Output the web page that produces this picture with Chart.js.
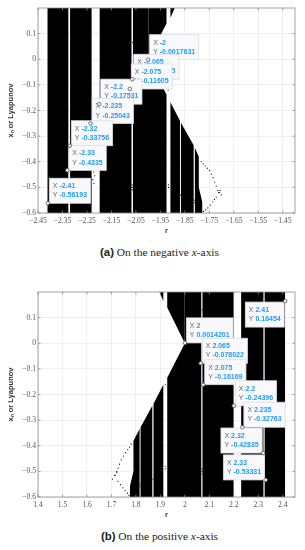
<!DOCTYPE html>
<html>
<head>
<meta charset="utf-8">
<script src="https://cdn.jsdelivr.net/npm/chart.js@4"></script>
<style>
  body { margin: 0; background: #fff; width: 305px; height: 550px; position: relative; overflow: hidden; }
  canvas { position: absolute; left: 0; }
  .caption { position: absolute; left: 7px; width: 305px; text-align: center; font: 11.4px "Liberation Serif", serif; color: #222; white-space: nowrap; }
  .caption b { font: bold 11.4px "Liberation Sans", sans-serif; }
</style>
</head>
<body>
<canvas id="chartA" width="305" height="240" style="top:0"></canvas>
<div class="caption" style="top:246px"><b>(a)</b> On the negative <i>x</i>-axis</div>
<canvas id="chartB" width="305" height="240" style="top:284px"></canvas>
<div class="caption" style="top:530px"><b>(b)</b> On the positive <i>x</i>-axis</div>
<script>
const yTicks = [-0.6, -0.5, -0.4, -0.3, -0.2, -0.1, 0, 0.1];
const yLabels = ["−0.6", "−0.5", "−0.4", "−0.3", "−0.2", "−0.1", "0", "0.1"];

const xTicksA = [-2.45, -2.35, -2.25, -2.15, -2.05, -1.95, -1.85, -1.75, -1.65, -1.55, -1.45];
const xLabelsA = ["−2.45", "−2.35", "−2.25", "−2.15", "−2.05", "−1.95", "−1.85", "−1.75", "−1.65", "−1.55", "−1.45"];
const xTicksB = [1.4, 1.5, 1.6, 1.7, 1.8, 1.9, 2, 2.1, 2.2, 2.3, 2.4];
const xLabelsB = ["1.4", "1.5", "1.6", "1.7", "1.8", "1.9", "2", "2.1", "2.2", "2.3", "2.4"];

// black area, lower part: filled from this outline down to the axis
const lowerRA = [-2.412, -2.412, -2.326, -2.326, -2.319, -2.319, -2.231, -2.231, -2.198, -2.198, -2.068, -2.068, -2.062, -2.062, -2, -2, -1.925, -1.925, -1.909, -1.909, -1.87, -1.87, -1.866, -1.866, -1.814, -1.814, -1.809, -1.809, -1.793, -1.793, -1.778, -1.778];
const lowerYA = [-0.6, 0.2, 0.2, -0.6, -0.6, 0.2, 0.2, -0.6, -0.6, 0.2, 0.2, -0.6, -0.6, 0.2, 0.2, 0, -0.138, -0.6, -0.6, -0.168, -0.24, -0.6, -0.6, -0.248, -0.336, -0.6, -0.6, -0.345, -0.38, -0.5, -0.56, -0.6];
// black area above the white wedge: filled up to the top
const upperRA = [-2, -1.925, -1.925, -1.909, -1.909, -1.891];
const upperYA = [0, 0.14, 0.2, 0.2, 0.162, 0.2];

const lowerRB = [1.775, 1.775, 1.79, 1.79, 1.815, 1.815, 1.819, 1.819, 1.867, 1.867, 1.872, 1.872, 1.912, 1.912, 1.928, 1.928, 2, 2, 2.067, 2.067, 2.072, 2.072, 2.199, 2.199, 2.23, 2.23, 2.321, 2.321, 2.326, 2.326, 2.41, 2.41];
const lowerYB = [-0.6, -0.56, -0.5, -0.38, -0.335, -0.6, -0.6, -0.328, -0.244, -0.6, -0.6, -0.236, -0.162, -0.6, -0.6, -0.135, 0, 0.2, 0.2, -0.6, -0.6, 0.2, 0.2, -0.6, -0.6, 0.2, 0.2, -0.6, -0.6, 0.2, 0.2, -0.6];
const upperRB = [1.896, 1.912, 1.912, 1.928, 1.928, 2];
const upperYB = [0.2, 0.165, 0.2, 0.2, 0.14, 0];

// loose points of the bifurcation branches and specks crossing the stripes
const dotsRA = [-1.783, -1.775, -1.767, -1.758, -1.749, -1.742, -1.735, -1.729, -1.722, -1.715, -1.708, -1.7, -1.722, -1.729, -1.736, -1.746, -1.756, -1.765, -1.774, -1.712, -1.706, -2.065, -2.065, -2.065, -1.917, -1.917, -1.9, -1.89, -1.868, -1.812, -1.812, -2.222, -2.218, -2.226, -2.222, -2.065, -1.918];
const dotsYA = [-0.4, -0.408, -0.416, -0.425, -0.434, -0.448, -0.462, -0.479, -0.495, -0.512, -0.52, -0.529, -0.538, -0.547, -0.557, -0.569, -0.58, -0.588, -0.594, -0.52, -0.512, -0.49, -0.5, -0.51, -0.49, -0.5, -0.53, -0.53, -0.53, -0.55, -0.56, -0.44, -0.455, -0.47, -0.485, 0.065, -0.12];

const dotsRB = [1.781, 1.774, 1.767, 1.758, 1.749, 1.74, 1.733, 1.727, 1.722, 1.713, 1.704, 1.727, 1.737, 1.747, 1.756, 1.765, 1.772, 1.715, 1.722, 2.07, 2.07, 2.07, 1.92, 1.92, 1.87, 1.89, 1.905, 1.817, 1.817, 2.07, 1.92];
const dotsYB = [-0.394, -0.405, -0.415, -0.427, -0.44, -0.455, -0.472, -0.487, -0.5, -0.516, -0.53, -0.539, -0.552, -0.564, -0.575, -0.585, -0.594, -0.515, -0.505, -0.49, -0.5, -0.51, -0.48, -0.49, -0.53, -0.53, -0.53, -0.55, -0.56, 0.13, -0.16];

// data tips, in the order they stack
const tipRA = [-2, -2.065, -2.075, -2.2, -2.235, -2.32, -2.33, -2.41];
const tipYA = [-0.0017631, -0.078025, -0.11605, -0.17531, -0.25043, -0.33756, -0.4335, -0.56193];
const tipRB = [2, 2.065, 2.075, 2.2, 2.235, 2.32, 2.33, 2.41];
const tipYB = [0.0014201, -0.078022, -0.16169, -0.24396, -0.32763, -0.42835, -0.53331, 0.16454];

const tipPlugin = (rs, ys, placeOf) => ({
  id: "tips",
  beforeDatasetDraw(chart, args) {
    if (args.index !== 0) return;
    const ctx = chart.ctx;
    const x = chart.scales.x, y = chart.scales.y;
    ctx.save();
    ctx.textBaseline = "middle";
    rs.forEach((r, i) => {
      const labelFont = "7px 'Liberation Sans', sans-serif";
      const valueFont = "bold 7px 'Liberation Sans', sans-serif";
      const rows = [["X", String(r)], ["Y", String(ys[i])]];
      const widths = rows.map(row => {
        ctx.font = labelFont;
        const a = ctx.measureText(row[0] + " ").width;
        ctx.font = valueFont;
        return a + ctx.measureText(row[1]).width;
      });
      const w = Math.max(widths[0], widths[1]) + 7;
      const h = 25;
      const px = x.getPixelForValue(r), py = y.getPixelForValue(ys[i]);
      const place = placeOf(r);
      const left = place === "ne" ? px + 1.5 : px - w - 1;
      const top = place === "sw" ? py + 1 : py - h;
      ctx.fillStyle = "#f9f9fd";
      ctx.strokeStyle = "#dcdce4";
      ctx.lineWidth = 0.8;
      ctx.fillRect(left, top, w, h);
      ctx.strokeRect(left, top, w, h);
      rows.forEach((row, j) => {
        const ty = top + 8 + j * 9.3;
        ctx.font = labelFont;
        ctx.fillStyle = "#666";
        ctx.fillText(row[0], left + 3.5, ty);
        const off = ctx.measureText(row[0] + " ").width;
        ctx.font = valueFont;
        ctx.fillStyle = "#1e9bf5";
        ctx.fillText(row[1], left + 3.5 + off, ty);
      });
    });
    ctx.restore();
  }
});

// frame and inward ticks on all four sides
const framePlugin = {
  id: "frame",
  afterDraw(chart) {
    const ctx = chart.ctx, a = chart.chartArea;
    ctx.save();
    ctx.strokeStyle = "#8c8c8c";
    ctx.lineWidth = 0.8;
    ctx.strokeRect(a.left, a.top, a.right - a.left, a.bottom - a.top);
    ctx.beginPath();
    chart.scales.x.ticks.forEach(t => {
      const p = chart.scales.x.getPixelForValue(t.value);
      ctx.moveTo(p, a.bottom); ctx.lineTo(p, a.bottom - 2.5);
      ctx.moveTo(p, a.top); ctx.lineTo(p, a.top + 2.5);
    });
    chart.scales.y.ticks.forEach(t => {
      const p = chart.scales.y.getPixelForValue(t.value);
      ctx.moveTo(a.left, p); ctx.lineTo(a.left + 2.5, p);
      ctx.moveTo(a.right, p); ctx.lineTo(a.right - 2.5, p);
    });
    ctx.stroke();
    ctx.restore();
  }
};

const pairs = (xs, ys) => xs.map((v, i) => ({ x: v, y: ys[i] }));

const makeChart = (id, xRange, xTicks, xLabels, lowerR, lowerY, upperR, upperY, dotsR, dotsY, tipR, tipY, placeOf) => {
  const tickFont = { family: "'Liberation Serif', serif", size: 7.6 };
  const titleFont = { family: "'Liberation Sans', sans-serif", size: 7.5, weight: "bold" };
  const gridColor = "#ececec";
  return new Chart(document.getElementById(id).getContext("2d"), {
    type: "scatter",
    data: {
      datasets: [
        {
          data: pairs(tipR, tipY),
          pointRadius: 1.8,
          pointBackgroundColor: "#f4f4f4",
          pointBorderColor: "#555",
          pointBorderWidth: 0.8
        },
        { data: pairs(dotsR, dotsY), pointRadius: 0.6, pointBackgroundColor: "#000", pointBorderWidth: 0 },
        { data: pairs(lowerR, lowerY), showLine: true, fill: "start", backgroundColor: "#000", borderWidth: 0, pointRadius: 0 },
        { data: pairs(upperR, upperY), showLine: true, fill: "end", backgroundColor: "#000", borderWidth: 0, pointRadius: 0 }
      ]
    },
    options: {
      responsive: false,
      animation: false,
      layout: { padding: { top: 8, right: 10, left: 0, bottom: 0 } },
      plugins: { legend: { display: false }, tooltip: { enabled: false } },
      scales: {
        x: {
          type: "linear",
          min: xRange[0],
          max: xRange[1],
          afterFit: s => { s.height = 27; },
          afterBuildTicks: s => { s.ticks = xTicks.map(v => ({ value: v })); },
          ticks: { callback: (v, i) => xLabels[i], font: tickFont, color: "#555", padding: 3, maxRotation: 0, autoSkip: false },
          grid: { color: gridColor, lineWidth: 0.8, drawTicks: false },
          border: { display: false },
          title: { display: true, text: "r", font: titleFont, color: "#333", padding: { top: 0, bottom: 5 } }
        },
        y: {
          min: -0.6,
          max: 0.2,
          afterFit: s => { s.width = 38; },
          afterBuildTicks: s => { s.ticks = yTicks.map(v => ({ value: v })); },
          ticks: { callback: (v, i) => yLabels[i], font: tickFont, color: "#555", padding: 2, autoSkip: false },
          grid: { color: gridColor, lineWidth: 0.8, drawTicks: false },
          border: { display: false },
          title: { display: true, text: "xₙ or Lyapunov", font: titleFont, color: "#333", padding: { top: 6, bottom: 0 } }
        }
      }
    },
    plugins: [tipPlugin(tipR, tipY, placeOf), framePlugin]
  });
};

makeChart("chartA", [-2.45, -1.4], xTicksA, xLabelsA, lowerRA, lowerYA, upperRA, upperYA, dotsRA, dotsYA, tipRA, tipYA, () => "ne");
// on the second panel the last three tips open to the left
makeChart("chartB", [1.4, 2.45], xTicksB, xLabelsB, lowerRB, lowerYB, upperRB, upperYB, dotsRB, dotsYB, tipRB, tipYB,
  r => r === 2.41 ? "sw" : (r === 2.32 || r === 2.33 ? "nw" : "ne"));
</script>
</body>
</html>
